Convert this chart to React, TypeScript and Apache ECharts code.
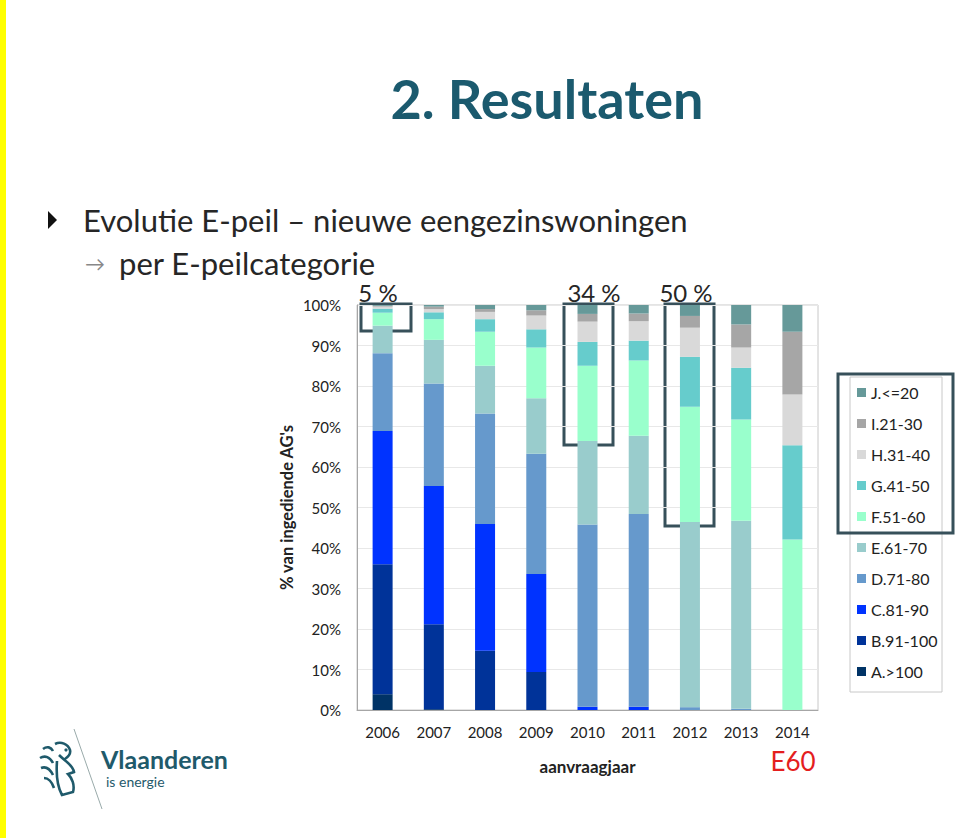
import React, { useEffect, useRef } from "react";
import * as echarts from "echarts";

const years = ["2006", "2007", "2008", "2009", "2010", "2011", "2012", "2013", "2014"];
const catNames = ["A.>100", "B.91-100", "C.81-90", "D.71-80", "E.61-70", "F.51-60", "G.41-50", "H.31-40", "I.21-30", "J.<=20"];
const catColors = ["#003366", "#003399", "#0033ff", "#6699cc", "#99cccc", "#99ffcc", "#66cccc", "#d9d9d9", "#a6a6a6", "#669999"];
const valA = [3.9, 0.2, 0, 0, 0, 0, 0, 0, 0];
const valB = [32.1, 21.0, 14.6, 9.4, 0, 0, 0, 0, 0];
const valC = [32.9, 34.1, 31.3, 24.2, 0.8, 0.8, 0, 0, 0];
const valD = [19.2, 25.3, 27.3, 29.7, 45.0, 47.6, 0.7, 0.3, 0];
const valE = [6.8, 10.8, 11.8, 13.7, 20.6, 19.3, 45.7, 46.4, 0];
const valF = [3.2, 5.1, 8.4, 12.5, 18.6, 18.6, 28.5, 25.0, 42.1];
const valG = [1.0, 1.7, 3.1, 4.5, 5.9, 4.9, 12.3, 12.8, 23.3];
const valH = [0.5, 0.8, 1.8, 3.4, 5.0, 4.8, 7.2, 5.0, 12.5];
const valI = [0.2, 0.6, 0.7, 1.3, 1.9, 1.9, 2.9, 5.7, 15.5];
const valJ = [0.2, 0.4, 1.0, 1.3, 2.2, 2.1, 2.7, 4.8, 6.6];
const seriesValues = [valA, valB, valC, valD, valE, valF, valG, valH, valI, valJ];

const LION =
  "M4 8 C8 5 12 6 14 10 M1 17 C6 14 11 16 14 22 M2 27 C7 25 11 28 14 34 M5 37 C9 37 13 41 15 47 " +
  "M16 3 C22 0 29 3 31 9 C32 13 29 16 26 18 M20 14 C26 20 34 24 35 31 L29 33 C33 37 36 44 34 51 L23 54 C19 47 17 34 18 20";

export default function App() {
  const ref = useRef<HTMLDivElement>(null);
  useEffect(() => {
    echarts.graphic.registerShape("lion", echarts.graphic.extendPath(LION, {}));
    const chart = echarts.init(ref.current!, null, { renderer: "svg" });
    const font = "Lato";
    const boxStroke = "#37505a";
    chart.setOption({
      animation: false,
      backgroundColor: "#ffffff",
      grid: {
        left: 357,
        top: 305,
        width: 461,
        height: 405,
        show: true,
        borderColor: "#c8c8c8",
        borderWidth: 1,
      },
      xAxis: {
        type: "category",
        data: years,
        name: "aanvraagjaar",
        nameLocation: "middle",
        nameGap: 48,
        nameTextStyle: { fontFamily: font, fontSize: 17, fontWeight: "bold", color: "#222" },
        axisLine: { lineStyle: { color: "#a6a6a6" } },
        axisTick: { show: false },
        axisLabel: { fontFamily: font, fontSize: 15, color: "#222", margin: 14 },
      },
      yAxis: {
        type: "value",
        min: 0,
        max: 100,
        interval: 10,
        name: "% van ingediende AG's",
        nameLocation: "middle",
        nameGap: 62,
        nameTextStyle: { fontFamily: font, fontSize: 16.5, fontWeight: "bold", color: "#222" },
        axisLine: { show: true, lineStyle: { color: "#a6a6a6" } },
        axisTick: { show: false },
        splitLine: { lineStyle: { color: "#e8e8e8" } },
        axisLabel: { fontFamily: font, fontSize: 15, color: "#222", margin: 16, formatter: "{value}%" },
      },
      legend: {
        data: [...catNames].reverse(),
        orient: "vertical",
        left: 857,
        top: 384,
        padding: 0,
        itemWidth: 9,
        itemHeight: 9,
        itemGap: 14,
        icon: "rect",
        textStyle: { fontFamily: font, fontSize: 16, color: "#222", lineHeight: 17 },
      },
      series: catNames.map((n, i) => ({
        name: n,
        type: "bar",
        stack: "total",
        barWidth: 20,
        data: seriesValues[i],
        itemStyle: { color: catColors[i] },
      })),
      graphic: [
        { type: "rect", shape: { x: 0, y: 0, width: 6, height: 838 }, style: { fill: "#ffff00" } },
        {
          type: "text",
          x: 547,
          y: 98,
          style: { text: "2. Resultaten", fontFamily: font, fontWeight: "bold", fontSize: 54, fill: "#1b5a6e", align: "center", verticalAlign: "middle" },
        },
        { type: "polygon", shape: { points: [[48, 211], [57, 220], [48, 229]] }, style: { fill: "#111" } },
        {
          type: "text",
          x: 83,
          y: 220,
          style: { text: "Evolutie E-peil – nieuwe eengezinswoningen", fontFamily: font, fontSize: 31, fill: "#262626", verticalAlign: "middle" },
        },
        {
          type: "text",
          x: 85,
          y: 263,
          style: { text: "→", fontFamily: font, fontSize: 20, fill: "#888", verticalAlign: "middle" },
        },
        {
          type: "text",
          x: 119,
          y: 263,
          style: { text: "per E-peilcategorie", fontFamily: font, fontSize: 31, fill: "#262626", verticalAlign: "middle" },
        },
        { type: "text", x: 378, y: 292, style: { text: "5 %", fontFamily: font, fontSize: 24, fill: "#262626", align: "center", verticalAlign: "middle" } },
        { type: "text", x: 594, y: 292, style: { text: "34 %", fontFamily: font, fontSize: 24, fill: "#262626", align: "center", verticalAlign: "middle" } },
        { type: "text", x: 686, y: 292, style: { text: "50 %", fontFamily: font, fontSize: 24, fill: "#262626", align: "center", verticalAlign: "middle" } },
        { type: "rect", shape: { x: 361, y: 304, width: 50, height: 27 }, style: { fill: "none", stroke: boxStroke, lineWidth: 3 } },
        { type: "rect", shape: { x: 564, y: 304, width: 49, height: 141 }, style: { fill: "none", stroke: boxStroke, lineWidth: 3 } },
        { type: "rect", shape: { x: 665, y: 304, width: 49, height: 222 }, style: { fill: "none", stroke: boxStroke, lineWidth: 3 } },
        { type: "rect", shape: { x: 850, y: 377, width: 92, height: 315 }, style: { fill: "none", stroke: "#c8c8c8", lineWidth: 1 } },
        { type: "rect", shape: { x: 838, y: 374, width: 115, height: 159 }, style: { fill: "none", stroke: boxStroke, lineWidth: 3 } },
        { type: "text", x: 793, y: 761, style: { text: "E60", fontFamily: font, fontSize: 26, fill: "#e41e1e", align: "center", verticalAlign: "middle" } },
        { type: "line", shape: { x1: 74, y1: 729, x2: 102, y2: 809 }, style: { stroke: "#9aa", lineWidth: 1 } },
        { type: "lion", x: 39, y: 741, scaleX: 1, scaleY: 1, style: { fill: "none", stroke: "#1f5a6b", lineWidth: 2.6 } },
        { type: "circle", shape: { cx: 66, cy: 750, r: 1.6 }, style: { fill: "#1f5a6b" } },
        { type: "text", x: 101, y: 759, style: { text: "Vlaanderen", fontFamily: font, fontWeight: "bold", fontSize: 25, fill: "#1f5a6b", verticalAlign: "middle" } },
        { type: "text", x: 106, y: 781, style: { text: "is energie", fontFamily: font, fontSize: 14, fill: "#1f5a6b", verticalAlign: "middle" } },
      ],
    });
    return () => chart.dispose();
  }, []);
  return <div ref={ref} style={{ position: "fixed", left: 0, top: 0, width: 960, height: 838 }} />;
}
